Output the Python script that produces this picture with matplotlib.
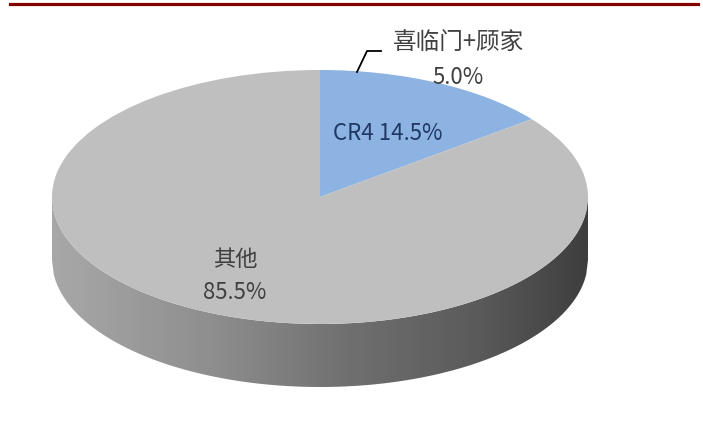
import numpy as np
import matplotlib.pyplot as plt
from matplotlib.patches import Polygon
from matplotlib.lines import Line2D
from matplotlib.colors import LinearSegmentedColormap

plt.rcParams['font.family'] = ['Noto Sans CJK SC', 'DejaVu Sans']

# data
slice_names = ['CR4', '其他']
slice_shares = [14.5, 85.5]
slice_colors = ['#8db3e2', '#bfbfbf']
sub_name = '喜临门+顾家'
sub_share = 5.0

# layout in pixels
W, H = 703, 439
CX, CY = 320, 198
RX, RY = 268, 127
DEPTH = 63


def px(x, y):
    # pixel position -> data coords of the squashed pie
    return (x - CX) / RX, (CY - y) / RY


fig = plt.figure(figsize=(W / 100, H / 100), dpi=100)
ax = fig.add_axes([0, 0, 1, 1])

wedges, _ = ax.pie(slice_shares, colors=slice_colors, startangle=90,
                   counterclock=False, radius=1, center=(0, 0),
                   wedgeprops=dict(linewidth=0, zorder=2))

# side wall of the 3d pie with a left-to-right shade
t = DEPTH / RY
xs = np.linspace(-1, 1, 300)
top = -np.sqrt(np.clip(1 - xs ** 2, 0, None))
verts = list(zip(xs, top)) + list(zip(xs[::-1], top[::-1] - t))
wall = Polygon(verts, closed=True, facecolor='none', edgecolor='none')
ax.add_patch(wall)
side_cmap = LinearSegmentedColormap.from_list(
    'side', [(0, '#a8a8a8'), (0.3, '#8e8e8e'), (0.55, '#707070'),
             (0.8, '#5a5a5a'), (1, '#3e3e3e')])
grad = np.linspace(0, 1, 256).reshape(1, -1)
im = ax.imshow(grad, cmap=side_cmap, extent=(-1, 1, -1 - t, 0),
               aspect='auto', zorder=1, interpolation='bilinear')
im.set_clip_path(wall)

ax.set_aspect('auto')
ax.set_xlim(-CX / RX, (W - CX) / RX)
ax.set_ylim(-(H - CY) / RY, CY / RY)
ax.axis('off')

# labels
ax.text(*px(388, 133), f'{slice_names[0]} {slice_shares[0]:.1f}%',
        ha='center', va='center', fontsize=16, color='#1f3864', zorder=5)
ax.text(*px(235, 260), slice_names[1], ha='center', va='center',
        fontsize=16, color='#404040', zorder=5)
ax.text(*px(235, 293), f'{slice_shares[1]:.1f}%', ha='center', va='center',
        fontsize=16, color='#404040', zorder=5)
ax.text(*px(459, 43), sub_name, ha='center', va='center',
        fontsize=17, color='#404040', zorder=5)
ax.text(*px(458, 78), f'{sub_share:.1f}%', ha='center', va='center',
        fontsize=16, color='#404040', zorder=5)

lx, ly = zip(px(357, 73), px(367, 52), px(381, 52))
ax.plot(lx, ly, color='black', lw=1.3, zorder=5)

# red rule at the top
fig.add_artist(Line2D([10 / W, 698 / W], [1 - 4.5 / H, 1 - 4.5 / H],
                      color='#820000', lw=2.3))

fig.savefig('out.png', dpi=100)
